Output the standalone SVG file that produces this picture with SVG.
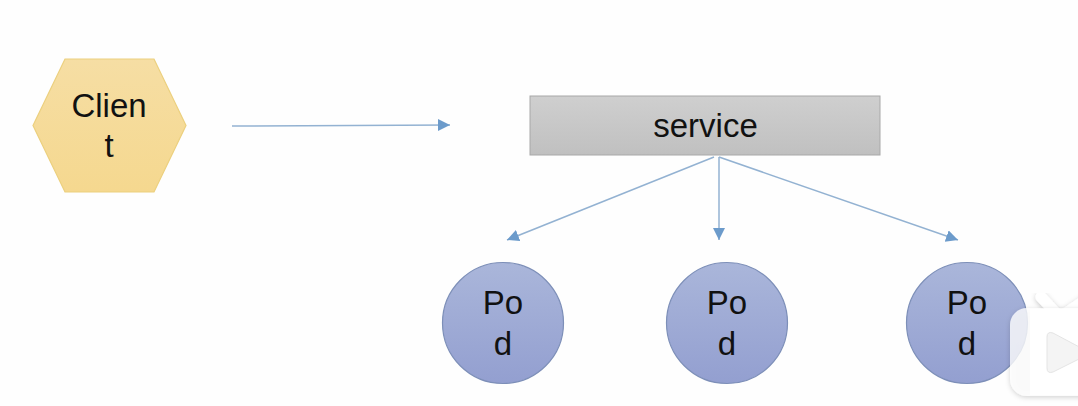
<svg xmlns="http://www.w3.org/2000/svg" width="1078" height="406" viewBox="0 0 1078 406">
<style>
text{font-family:"Liberation Sans",Arial,sans-serif;font-size:33px;fill:#111;text-anchor:middle}
.c{fill:none;stroke:#93b2d2;stroke-width:1.5}
.pod{fill:url(#gp);stroke:#7d8fb8;stroke-width:1.2}
</style>
<defs>
<linearGradient id="gh" x1="0" y1="0" x2="0" y2="1"><stop offset="0" stop-color="#f6dea4"/><stop offset="1" stop-color="#f5d88f"/></linearGradient>
<linearGradient id="gs" x1="0" y1="0" x2="0" y2="1"><stop offset="0" stop-color="#cfcfcf"/><stop offset="1" stop-color="#c0c0c0"/></linearGradient>
<linearGradient id="gp" x1="0" y1="0" x2="0" y2="1"><stop offset="0" stop-color="#aab6da"/><stop offset="1" stop-color="#939fd0"/></linearGradient>
<marker id="ah" markerUnits="userSpaceOnUse" markerWidth="13" markerHeight="13" refX="12" refY="6" orient="auto"><path d="M0 0L12 6L0 12Z" fill="#6c9bcb"/></marker>
<filter id="sh" x="-20%" y="-20%" width="140%" height="140%"><feDropShadow dx="0" dy="1.5" stdDeviation="2.5" flood-color="#000" flood-opacity="0.22"/></filter>
</defs>
<rect width="1078" height="406" fill="#fefefe"/>
<g id="connectors">
<path class="c" d="M232 126L450 125" marker-end="url(#ah)"/>
<path class="c" d="M714 157L507 240" marker-end="url(#ah)"/>
<path class="c" d="M719 157L719 240" marker-end="url(#ah)"/>
<path class="c" d="M719 157L958 240" marker-end="url(#ah)"/>
</g>
<g id="client">
<polygon points="33,125.5 65,59 154,59 186,125.5 154,192 65,192" fill="url(#gh)" stroke="#ecd07e" stroke-width="1.2"/>
<text x="109" y="117">Clien</text>
<text x="109" y="157">t</text>
</g>
<g id="service">
<rect x="530" y="96" width="350" height="59" fill="url(#gs)" stroke="#a8a8a8" stroke-width="1"/>
<text x="705.500" y="137">service</text>
</g>
<g id="pod1">
<circle class="pod" cx="503" cy="323" r="60.5"/>
<text x="503" y="314">Po</text>
<text x="503" y="355">d</text>
</g>
<g id="pod2">
<circle class="pod" cx="727" cy="323" r="60.5"/>
<text x="727" y="314">Po</text>
<text x="727" y="355">d</text>
</g>
<g id="pod3">
<circle class="pod" cx="967" cy="323" r="60.5"/>
<text x="967" y="314">Po</text>
<text x="967" y="355">d</text>
</g>
<g id="watermark">
<path d="M1041 297L1056 313M1090 297L1066 313" stroke="#fff" stroke-width="11" stroke-linecap="round" fill="none" filter="url(#sh)"/>
<rect x="1010" y="308" width="100" height="88" rx="17" fill="#fff" fill-opacity="0.78" filter="url(#sh)"/>
<rect x="1030" y="309" width="60" height="86" fill="#fff"/>
<path d="M1053 333L1085 350Q1089 353 1085 356L1053 372Q1047 374 1047 368V337Q1047 331 1053 333Z" fill="#f4f4f4" stroke="#e4e4e4" stroke-width="1"/>
</g>
</svg>
